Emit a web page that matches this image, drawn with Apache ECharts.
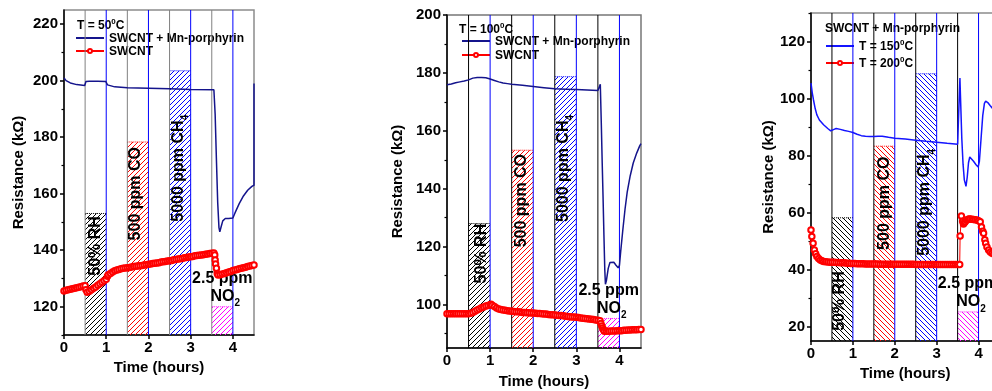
<!DOCTYPE html>
<html>
<head>
<meta charset="utf-8">
<script src="https://cdn.jsdelivr.net/npm/echarts@6/dist/echarts.min.js"></script>
<style>html,body{margin:0;padding:0;background:#fff;}#c{width:992px;height:391px;}</style>
</head>
<body>
<div id="c"></div>
<script>
// ---------- DATA ----------
const X_TICKS = [0, 1, 2, 3, 4];
const GAS_WINDOWS = [[0.5, 1], [1.5, 2], [2.5, 3], [3.5, 4]];
const GAS_LABELS = ['{b|50% RH}', '{b|500 ppm CO}', '{b|5000 ppm CH}{sub|4}'];
const NO2_LABELS = ['{b|2.5 ppm}', '{b|NO}{sub|2}'];

// Panel 1 (T = 50 C)
const P1_Y_MAJOR = [120, 140, 160, 180, 200, 220];
const P1_Y_MINOR = [110, 130, 150, 170, 190, 210];
const P1_BOX_TOPS = [153, 178.3, 203.5, 120];
const P1_MN = [[0,201],[0.05,200],[0.15,199.2],[0.3,198.6],[0.49,198.3],[0.52,199.7],[0.6,199.8],[0.8,199.8],[0.99,199.7],[1.03,198.5],[1.2,197.8],[1.5,197.5],[2,197.3],[2.5,197.1],[3,196.9],[3.55,196.8],[3.58,188],[3.61,172],[3.64,157],[3.67,148],[3.69,146.5],[3.72,148.2],[3.76,150.4],[3.82,151.2],[3.9,151.2],[4,151.4],[4.05,153.2],[4.15,156.5],[4.25,159.2],[4.35,161.2],[4.45,162.6],[4.5,163],[4.5,199]];
const P1_SWCNT = [[0,125.6],[0.05,125.8],[0.1,126.0],[0.15,126.2],[0.2,126.4],[0.25,126.5],[0.3,126.7],[0.35,126.9],[0.4,127.1],[0.45,127.3],[0.5,127.4],[0.52,126],[0.55,125.1],[0.6,125.5],[0.65,126],[0.7,126.5],[0.75,127],[0.8,127.6],[0.85,128.1],[0.9,128.7],[0.95,129.2],[1.0,129.7],[1.03,130.8],[1.05,131.3],[1.1,131.8],[1.15,132.3],[1.2,132.7],[1.25,133],[1.3,133.2],[1.35,133.4],[1.4,133.6],[1.45,133.7],[1.5,133.8],[1.55,133.9],[1.6,134.1],[1.65,134.2],[1.7,134.3],[1.75,134.4],[1.8,134.5],[1.85,134.6],[1.9,134.8],[1.95,134.9],[2.0,135.0],[2.05,135.1],[2.1,135.3],[2.15,135.4],[2.2,135.5],[2.25,135.6],[2.3,135.8],[2.35,135.9],[2.4,136.0],[2.45,136.2],[2.5,136.3],[2.55,136.4],[2.6,136.6],[2.65,136.7],[2.7,136.9],[2.75,137.0],[2.8,137.1],[2.85,137.3],[2.9,137.4],[2.95,137.6],[3.0,137.7],[3.05,137.8],[3.1,138.0],[3.15,138.1],[3.2,138.2],[3.25,138.3],[3.3,138.4],[3.35,138.6],[3.4,138.7],[3.45,138.8],[3.5,138.9],[3.55,139.0],[3.57,138.3],[3.58,136.5],[3.59,135.1],[3.61,133.6],[3.63,131.8],[3.65,131.2],[3.7,131.3],[3.75,131.6],[3.8,131.8],[3.85,132.0],[3.9,132.3],[3.95,132.5],[4.0,132.8],[4.05,133.0],[4.1,133.2],[4.15,133.4],[4.2,133.6],[4.25,133.8],[4.3,134.0],[4.35,134.2],[4.4,134.4],[4.45,134.6],[4.5,134.8]];

// Panel 2 (T = 100 C)
const P2_Y_MAJOR = [100, 120, 140, 160, 180, 200];
const P2_Y_MINOR = [90, 110, 130, 150, 170, 190];
const P2_BOX_TOPS = [128, 153.3, 178.7, 95.2];
const P2_MN = [[0,175.9],[0.1,176.2],[0.2,176.6],[0.3,176.9],[0.4,177.2],[0.5,177.6],[0.6,178.2],[0.7,178.4],[0.8,178.4],[0.9,178.3],[1.0,177.9],[1.1,177.4],[1.2,176.9],[1.3,176.5],[1.4,176.3],[1.5,176.1],[1.75,175.7],[2,175.3],[2.25,174.9],[2.5,174.5],[2.75,174.4],[3,174.3],[3.25,174.1],[3.5,173.9],[3.545,173.9],[3.556,176.1],[3.58,162],[3.6,149],[3.62,137],[3.64,124],[3.66,112],[3.675,107],[3.7,108.5],[3.74,112.5],[3.78,114.5],[3.82,115],[3.87,114.6],[3.92,113.6],[3.97,112.7],[4.0,113.5],[4.03,118.5],[4.08,126],[4.13,133],[4.18,138.8],[4.25,144.5],[4.32,148.9],[4.4,152.3],[4.47,154.8],[4.5,155.6]];
const P2_SWCNT = [[0,96.8],[0.05,96.8],[0.1,96.8],[0.15,96.8],[0.2,96.8],[0.25,96.8],[0.3,96.8],[0.35,96.8],[0.4,96.8],[0.45,96.8],[0.5,96.8],[0.55,97.0],[0.6,97.3],[0.65,97.7],[0.7,98.1],[0.75,98.5],[0.8,98.9],[0.85,99.2],[0.9,99.5],[0.95,99.7],[1.0,99.9],[1.02,100.1],[1.05,99.8],[1.1,99.3],[1.15,98.8],[1.2,98.5],[1.25,98.3],[1.3,98.1],[1.35,98.0],[1.4,97.9],[1.45,97.8],[1.5,97.7],[1.55,97.6],[1.6,97.5],[1.65,97.5],[1.7,97.4],[1.75,97.3],[1.8,97.3],[1.85,97.2],[1.9,97.2],[1.95,97.1],[2.0,97.1],[2.05,97.0],[2.1,96.9],[2.15,96.9],[2.2,96.8],[2.25,96.7],[2.3,96.7],[2.35,96.6],[2.4,96.5],[2.45,96.5],[2.5,96.4],[2.55,96.3],[2.6,96.2],[2.65,96.2],[2.7,96.1],[2.75,96.0],[2.8,95.9],[2.85,95.8],[2.9,95.7],[2.95,95.7],[3.0,95.6],[3.05,95.5],[3.1,95.4],[3.15,95.3],[3.2,95.2],[3.25,95.1],[3.3,95.0],[3.35,94.9],[3.4,94.8],[3.45,94.7],[3.5,94.6],[3.55,94.4],[3.57,93.5],[3.59,92.6],[3.61,91.9],[3.63,91.3],[3.65,90.8],[3.7,90.8],[3.75,90.8],[3.8,90.9],[3.85,90.9],[3.9,90.9],[3.95,91.0],[4.0,91.0],[4.05,91.0],[4.1,91.1],[4.15,91.1],[4.2,91.2],[4.25,91.2],[4.3,91.3],[4.35,91.3],[4.4,91.3],[4.45,91.4],[4.5,91.4]];

// Panel 3 (SWCNT + Mn-porphyrin at 150 / 200 C)
const P3_Y_MAJOR = [20, 40, 60, 80, 100, 120];
const P3_Y_MINOR = [30, 50, 70, 90, 110, 130];
const P3_BOX_TOPS = [58.2, 83.3, 108.7, 25.2];
const P3_T150 = [[0,105.4],[0.03,102],[0.06,99.5],[0.1,96.5],[0.14,94.3],[0.2,92.5],[0.3,90.8],[0.4,89.5],[0.47,88.7],[0.5,88.4],[0.55,89.2],[0.6,89.5],[0.7,89.2],[0.8,88.8],[0.9,88.5],[1.0,88.1],[1.1,87.5],[1.2,87.0],[1.3,86.8],[1.4,86.7],[1.5,86.7],[1.6,86.8],[1.7,86.8],[1.85,86.4],[2,86.1],[2.25,85.8],[2.5,85.4],[2.75,85.0],[3,84.7],[3.25,84.3],[3.5,84.0],[3.545,83.9],[3.555,107.2],[3.57,100],[3.6,86],[3.63,77],[3.66,71.5],[3.7,69.2],[3.73,72.5],[3.76,77.5],[3.79,79.5],[3.83,79.2],[3.88,78],[3.94,76.8],[3.99,76],[4.02,78],[4.06,86],[4.1,94],[4.14,98.3],[4.17,99.1],[4.22,98.6],[4.28,97.5],[4.33,96.6],[4.38,96]];
const P3_T200 = [[0,53.9],[0.02,51.6],[0.05,49.3],[0.08,46.9],[0.11,45.6],[0.14,44.6],[0.18,43.9],[0.22,43.4],[0.26,43.1],[0.3,42.9],[0.35,42.8],[0.4,42.7],[0.45,42.6],[0.5,42.6],[0.55,42.6],[0.6,42.5],[0.65,42.5],[0.7,42.4],[0.75,42.4],[0.8,42.4],[0.85,42.3],[0.9,42.3],[0.95,42.2],[1.0,42.2],[1.05,42.2],[1.1,42.1],[1.15,42.1],[1.2,42.1],[1.25,42.1],[1.3,42.0],[1.35,42.0],[1.4,42.0],[1.45,42.0],[1.5,42.0],[1.55,42.0],[1.6,42.0],[1.65,41.9],[1.7,41.9],[1.75,41.9],[1.8,41.9],[1.85,41.9],[1.9,41.9],[1.95,41.9],[2.0,41.9],[2.05,41.9],[2.1,41.9],[2.15,41.9],[2.2,41.9],[2.25,41.9],[2.3,41.9],[2.35,41.9],[2.4,41.9],[2.45,41.9],[2.5,41.8],[2.55,41.8],[2.6,41.8],[2.65,41.8],[2.7,41.8],[2.75,41.8],[2.8,41.8],[2.85,41.8],[2.9,41.8],[2.95,41.8],[3.0,41.8],[3.05,41.8],[3.1,41.8],[3.15,41.8],[3.2,41.8],[3.25,41.8],[3.3,41.8],[3.35,41.8],[3.4,41.8],[3.45,41.8],[3.5,41.8],[3.55,41.8],[3.56,51.8],[3.59,58.8],[3.62,57.0],[3.64,56.0],[3.66,56.5],[3.68,56.8],[3.71,57.3],[3.74,57.6],[3.77,57.8],[3.8,57.8],[3.84,57.7],[3.88,57.6],[3.92,57.5],[3.96,57.4],[4.0,57.2],[4.04,56.8],[4.07,55],[4.1,53.5],[4.12,52.8],[4.15,50.5],[4.17,49.3],[4.2,48],[4.24,46.9],[4.28,46.2],[4.32,45.8],[4.36,45.5]];

// ---------- STYLE / LAYOUT ----------
const FONT = '"Liberation Sans", Arial, sans-serif';
const BOX_COLORS = ['#000000', '#ff0000', '#0000ff', '#ff00ff'];
const OFF_LINE_COLOR = '#0000ff';
const RICH = {
  b: {fontSize: 16, fontWeight: 'bold', fontFamily: FONT, color: '#000', lineHeight: 20, verticalAlign: 'top'},
  sub: {fontSize: 10, fontWeight: 'bold', fontFamily: FONT, color: '#000', lineHeight: 10, verticalAlign: 'bottom'}
};
const RICH_SMALL = {
  b: {fontSize: 12, fontWeight: 'bold', fontFamily: FONT, color: '#000', lineHeight: 14, verticalAlign: 'bottom'},
  sup: {fontSize: 8, fontWeight: 'bold', fontFamily: FONT, color: '#000', lineHeight: 8, verticalAlign: 'top'}
};

function hatch(color, dir) {
  const s = 5;
  const c = document.createElement('canvas');
  c.width = s; c.height = s;
  const g = c.getContext('2d');
  g.strokeStyle = color; g.lineWidth = 1;
  g.beginPath();
  if (dir === '/') {
    g.moveTo(-1, s + 1); g.lineTo(s + 1, -1);
    g.moveTo(-1, 1); g.lineTo(1, -1);
    g.moveTo(s - 1, s + 1); g.lineTo(s + 1, s - 1);
  } else {
    g.moveTo(-1, -1); g.lineTo(s + 1, s + 1);
    g.moveTo(-1, s - 1); g.lineTo(1, s + 1);
    g.moveTo(s - 1, -1); g.lineTo(s + 1, 1);
  }
  g.stroke();
  return c;
}

const PANELS = [
  {grid: {left: 64, top: 10, width: 190, height: 325}, yMin: 110, yMax: 225, major: P1_Y_MAJOR, minor: P1_Y_MINOR,
   tops: P1_BOX_TOPS, dir: '/', onColor: '#808080', frame: '#8c8c8c', yNameGap: 38, xNameGap: 21,
   labelPos: [[0.79, 141.5], [1.74, 160], [2.76, 169]]},
  {grid: {left: 447, top: 15, width: 194, height: 333}, yMin: 85, yMax: 200, major: P2_Y_MAJOR, minor: P2_Y_MINOR,
   tops: P2_BOX_TOPS, dir: '/', onColor: '#000000', frame: '#777777', yNameGap: 42, xNameGap: 26,
   labelPos: [[0.86, 117.6], [1.77, 135.9], [2.74, 147]]},
  {grid: {left: 811, top: 13, width: 188.5, height: 328}, yMin: 15, yMax: 130, major: P3_Y_MAJOR, minor: P3_Y_MINOR,
   tops: P3_BOX_TOPS, dir: '\\', onColor: '#000000', frame: '#8c8c8c', yNameGap: 34, xNameGap: 21,
   labelPos: [[0.74, 29], [1.81, 63.3], [2.77, 63.6]]}
];

const grids = [], xAxes = [], yAxes = [], series = [];
const axisText = {fontSize: 15, fontWeight: 'bold', color: '#000', fontFamily: FONT};

PANELS.forEach((p, k) => {
  grids.push(Object.assign({show: true, borderColor: p.frame, borderWidth: 1.5, backgroundColor: 'transparent',
    containLabel: false, outerBoundsMode: 'none'}, p.grid));
  xAxes.push({
    type: 'value', gridIndex: k, min: 0, max: 4.5,
    axisLine: {lineStyle: {color: '#000', width: 1.5}},
    axisTick: {length: 4, customValues: X_TICKS, lineStyle: {color: '#000', width: 1.5}},
    axisLabel: Object.assign({customValues: X_TICKS, margin: 5}, axisText),
    splitLine: {show: false},
    name: 'Time (hours)', nameLocation: 'middle', nameGap: p.xNameGap,
    nameTextStyle: Object.assign({verticalAlign: 'top'}, axisText)
  });
  yAxes.push({
    type: 'value', gridIndex: k, min: p.yMin, max: p.yMax, position: 'left',
    axisLine: {lineStyle: {color: '#000', width: 1.5}},
    axisTick: {length: 4, customValues: p.major, lineStyle: {color: '#000', width: 1.5}},
    axisLabel: Object.assign({customValues: p.major, margin: 6}, axisText),
    splitLine: {show: false},
    name: 'Resistance (k\u03A9)', nameLocation: 'middle', nameGap: p.yNameGap,
    nameTextStyle: axisText
  });
  yAxes.push({
    type: 'value', gridIndex: k, min: p.yMin, max: p.yMax, position: 'left', offset: 0,
    axisLine: {show: false},
    axisTick: {length: 2.5, customValues: p.minor, lineStyle: {color: '#000', width: 1.2}},
    axisLabel: {show: false},
    splitLine: {show: false}
  });
  const pattern = BOX_COLORS.map(c => ({image: hatch(c, p.dir), repeat: 'repeat'}));
  series.push({
    type: 'custom', xAxisIndex: k, yAxisIndex: 2 * k, z: 1, silent: true, clip: false,
    data: GAS_WINDOWS.map((w, i) => [w[0], w[1], p.tops[i], i]),
    encode: {x: [0, 1], y: 2},
    renderItem: (params, api) => {
      const i = api.value(3);
      const cs = params.coordSys;
      const a = api.coord([api.value(0), api.value(2)]);
      const b = api.coord([api.value(1), api.value(2)]);
      const top = cs.y, bottom = cs.y + cs.height;
      const children = [
        {type: 'rect', shape: {x: a[0], y: a[1], width: b[0] - a[0], height: bottom - a[1]},
         style: {fill: pattern[i], stroke: null}},
        {type: 'line', shape: {x1: a[0], y1: a[1], x2: b[0], y2: a[1]},
         style: {stroke: BOX_COLORS[i], lineWidth: 1, lineDash: [1, 1]}},
        {type: 'line', shape: {x1: a[0], y1: top, x2: a[0], y2: bottom},
         style: {stroke: p.onColor, lineWidth: 1}},
        {type: 'line', shape: {x1: b[0], y1: top, x2: b[0], y2: bottom},
         style: {stroke: OFF_LINE_COLOR, lineWidth: 1}}
      ];
      if (i < 3) {
        const c = api.coord(p.labelPos[i]);
        children.push({type: 'text', x: c[0], y: c[1], rotation: Math.PI / 2,
          style: {text: GAS_LABELS[i], rich: RICH, align: 'center', verticalAlign: 'middle'}});
      } else {
        const cx = (a[0] + b[0]) / 2;
        children.push({type: 'text', x: cx, y: a[1] - 26,
          style: {text: NO2_LABELS[0], rich: RICH, align: 'center', verticalAlign: 'middle'}});
        children.push({type: 'text', x: cx + 3, y: a[1] + 2,
          style: {text: NO2_LABELS[1], rich: RICH, align: 'center', verticalAlign: 'bottom'}});
      }
      return {type: 'group', children};
    }
  });
});

function blueLine(name, k, data, color) {
  return {type: 'line', name, xAxisIndex: k, yAxisIndex: 2 * k, data, z: 3, symbol: 'none',
          color, lineStyle: {color, width: 1.5}, animation: false};
}
function redLine(name, k, data) {
  return {type: 'line', name, xAxisIndex: k, yAxisIndex: 2 * k, data, z: 3, symbol: 'emptyCircle',
          symbolSize: 5.5, showAllSymbol: true, color: '#ff0000',
          itemStyle: {color: '#ff0000', borderColor: '#ff0000', borderWidth: 1},
          lineStyle: {color: '#ff0000', width: 1}, animation: false};
}
series.push(blueLine('SWCNT + Mn-porphyrin', 0, P1_MN, '#14148c'));
series.push(redLine('SWCNT', 0, P1_SWCNT));
series.push(blueLine('SWCNT + Mn-porphyrin', 1, P2_MN, '#14148c'));
series.push(redLine('SWCNT', 1, P2_SWCNT));
series.push(blueLine('T = 150\u00B0C', 2, P3_T150, '#1414ff'));
series.push(redLine('T = 200\u00B0C', 2, P3_T200));

const legendFmt = n => '{b|' + n.replace('\u00B0', '}{sup|0}{b|') + '}';
const legendBase = {orient: 'vertical', itemWidth: 28, itemHeight: 5, z: 0, padding: 0, selectedMode: false,
  formatter: legendFmt, textStyle: {rich: RICH_SMALL, fontSize: 12, fontWeight: 'bold', fontFamily: FONT}};
const noSym = name => ({name, itemStyle: {opacity: 0}});

const option = {
  animation: false,
  backgroundColor: '#fff',
  grid: grids, xAxis: xAxes, yAxis: yAxes, series,
  title: [
    {text: '{b|T = 50}{sup|0}{b|C}', left: 77, top: 18, padding: 0, z: 0, textStyle: {rich: RICH_SMALL}},
    {text: '{b|T = 100}{sup|0}{b|C}', left: 459, top: 22, padding: 0, z: 0, textStyle: {rich: RICH_SMALL}},
    {text: '{b|SWCNT + Mn-porphyrin}', left: 825, top: 21, padding: 0, z: 0, textStyle: {rich: RICH_SMALL}}
  ],
  legend: [
    Object.assign({left: 75, top: 33, itemGap: 1, data: [noSym('SWCNT + Mn-porphyrin'), 'SWCNT']}, legendBase),
    Object.assign({left: 461, top: 36, itemGap: 2, data: [noSym('SWCNT + Mn-porphyrin'), 'SWCNT']}, legendBase),
    Object.assign({left: 825, top: 39, itemGap: 3, data: [noSym('T = 150\u00B0C'), 'T = 200\u00B0C']}, legendBase)
  ]
};

const chart = echarts.init(document.getElementById('c'), null, {renderer: 'canvas'});
chart.setOption(option);
</script>
</body>
</html>
